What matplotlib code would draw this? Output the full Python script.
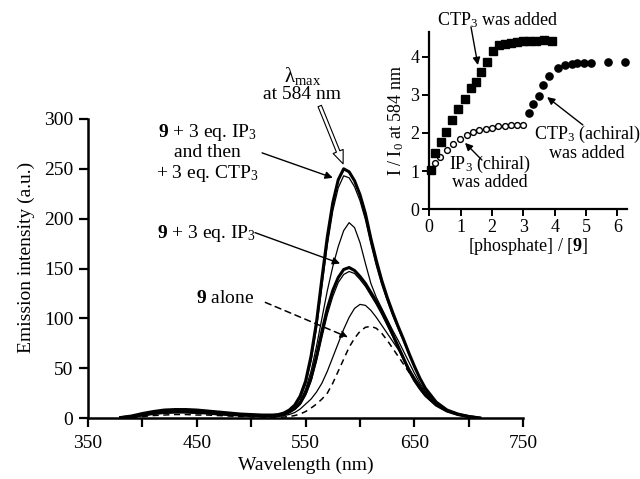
import matplotlib
matplotlib.use("Agg")
import matplotlib.pyplot as plt

plt.rcParams['font.family'] = ['Liberation Serif', 'DejaVu Serif']
plt.rcParams['mathtext.fontset'] = 'custom'
plt.rcParams['mathtext.rm'] = 'Liberation Serif'
plt.rcParams['mathtext.it'] = 'Liberation Serif:italic'
plt.rcParams['mathtext.bf'] = 'Liberation Serif:bold'

FS = 14      # main panel text
FS2 = 13     # inset text

# emission spectra (wavelength in nm, intensity in a.u.)
wl = [380, 390, 400, 410, 420, 430, 440, 450, 460, 470, 480, 490, 500, 510, 520,
      525, 530, 535, 540, 545, 550, 555, 560, 565, 570, 575, 580, 585, 590, 595,
      600, 605, 610, 615, 620, 625, 630, 635, 640, 645, 650, 655, 660,
      670, 680, 690, 700, 710]

# 9 + 3 eq. IP3 + 3 eq. CTP3 (final)
spec_ctp_end = [0.5, 2, 4.5, 6.5, 8, 8.5, 8.5, 8, 7, 6, 5, 4, 3.5, 3, 3,
                3.5, 5, 8, 13, 22, 37, 62, 96, 140, 182, 216, 239, 250, 247, 238,
                224, 205, 180, 158, 138, 121, 106, 92, 79, 65, 52, 40, 30,
                16, 8, 4, 1.5, 0]
spec_ctp_2 = [0.5, 2, 4, 6, 7.5, 8, 8, 7.5, 6.5, 5.5, 4.5, 3.5, 3, 2.5, 2.5,
              3, 4.5, 7, 12, 20, 34, 57, 90, 132, 174, 208, 231, 243, 241, 232,
              218, 199, 175, 153, 134, 118, 103, 90, 77, 64, 51, 40, 30,
              16, 8, 4, 1.5, 0]
spec_ctp_1 = [0.3, 1.5, 3, 5, 6, 6.5, 6.5, 6, 5.5, 4.5, 3.5, 3, 2.5, 2, 2,
              2.5, 4, 6.5, 10.5, 17, 29, 47, 72, 100, 128, 152, 172, 188, 196, 191,
              176, 155, 135, 121, 110, 99, 88, 78, 67, 56, 45, 35, 27,
              15, 7.5, 3.5, 1.5, 0]
# 9 + 3 eq. IP3
spec_ip_end = [0.3, 1.5, 3, 4.5, 5.5, 6, 6, 5.5, 5, 4, 3.5, 3, 2.5, 2, 2,
               2.5, 3.5, 6, 9.5, 15, 25, 40, 62, 87, 110, 128, 141, 149, 151, 148,
               142, 135, 126, 117, 107, 96, 84, 72, 60, 48, 38, 30, 23,
               13, 7, 3.5, 1.5, 0]
spec_ip_2 = [0.3, 1.5, 3, 4.5, 5.5, 6, 6, 5.5, 5, 4, 3.5, 3, 2.5, 2, 2,
             2.5, 3.5, 5.5, 8.5, 13.5, 23, 37, 57, 81, 104, 122, 136, 144, 147, 145,
             139, 132, 123, 114, 104, 93, 82, 70, 58, 47, 37, 29, 22,
             12.5, 6.5, 3, 1.2, 0]
spec_ip_1 = [0.3, 1, 2.5, 4, 5, 5.5, 5.5, 5, 4.5, 4, 3, 2.5, 2, 1.5, 1.5,
             1.8, 2.5, 3.5, 5.5, 9, 14, 19, 26, 35, 47, 61, 75, 89, 101, 110,
             114, 113, 108, 101, 93, 85, 77, 69, 60, 50, 41, 33, 26,
             15, 8, 3.5, 1.5, 0]
# 9 alone
spec_alone = [0, 0.5, 1.5, 2.5, 3, 3.5, 3.5, 3, 3, 2.5, 2, 1.5, 1.2, 1, 0.8,
              0.8, 1, 1.5, 2.5, 4, 6.5, 10, 14, 19, 25, 35, 47, 59, 71, 80,
              87, 91, 92, 90, 85, 78, 70, 62, 54, 46, 38, 31, 25,
              15, 8, 4, 1.5, 0]

# titration curves, I / I0 at 584 nm against [phosphate] / [9]
ctp_x = [0.05, 0.18, 0.36, 0.53, 0.74, 0.92, 1.14, 1.32, 1.49, 1.65, 1.85,
         2.04, 2.23, 2.41, 2.6, 2.79, 2.98, 3.18, 3.4, 3.65, 3.92]
ctp_y = [1.02, 1.47, 1.77, 2.02, 2.34, 2.62, 2.89, 3.17, 3.33, 3.61, 3.87,
         4.16, 4.3, 4.34, 4.37, 4.39, 4.4, 4.4, 4.41, 4.43, 4.42]
ip_x = [0.05, 0.18, 0.35, 0.56, 0.77, 0.99, 1.21, 1.41, 1.58, 1.8, 2.0,
        2.2, 2.4, 2.6, 2.8, 3.0]
ip_y = [1.02, 1.21, 1.37, 1.55, 1.72, 1.84, 1.94, 2.02, 2.07, 2.11, 2.14,
        2.17, 2.19, 2.2, 2.21, 2.22]
ach_x = [3.18, 3.32, 3.49, 3.64, 3.83, 4.10, 4.34, 4.54, 4.72, 4.94, 5.15,
         5.71, 6.24]
ach_y = [2.52, 2.75, 2.98, 3.26, 3.49, 3.69, 3.77, 3.81, 3.83, 3.84, 3.83,
         3.85, 3.85]

fig = plt.figure(figsize=(6.4, 4.79), dpi=100)
ax = fig.add_axes([0.1375, 0.1273, 0.680, 0.6243])

thin = 0.9
thick = 2.2
ax.plot(wl, spec_alone, color='k', lw=1.1, ls=(0, (4, 3)))
ax.plot(wl, spec_ip_1, color='k', lw=thin)
ax.plot(wl, spec_ip_2, color='k', lw=thin)
ax.plot(wl, spec_ip_end, color='k', lw=thick)
ax.plot(wl, spec_ctp_1, color='k', lw=thin)
ax.plot(wl, spec_ctp_2, color='k', lw=thin)
ax.plot(wl, spec_ctp_end, color='k', lw=thick)

ax.set_xlim(350, 750)
ax.set_ylim(0, 300)
ax.set_xticks([350, 450, 550, 650, 750])
ax.set_xticks([400, 500, 600, 700], minor=True)
ax.set_yticks(range(0, 301, 50))
for s in ['top', 'right']:
    ax.spines[s].set_visible(False)
for s in ['left', 'bottom']:
    ax.spines[s].set_linewidth(1.8)
ax.tick_params(which='both', direction='out', length=6.5, width=1.6,
               labelsize=FS, pad=4)
ax.tick_params(axis='x', pad=6)
ax.set_xlabel('Wavelength (nm)', fontsize=FS, labelpad=3)
ax.set_ylabel('Emission intensity (a.u.)', fontsize=FS)
ax.yaxis.set_label_coords(-0.122, 0.538)

arrow = dict(arrowstyle='-|>', color='k', lw=1.0, mutation_scale=11,
             shrinkA=0, shrinkB=0)

ax.text(547, 343, 'λ$_{\\rm max}$', fontsize=FS + 1, ha='center', va='center')
ax.text(547, 325, 'at 584 nm', fontsize=FS, ha='center', va='center')
ax.annotate('', xy=(584.5, 255), xytext=(563, 313), annotation_clip=False,
            arrowprops=dict(arrowstyle='simple,tail_width=0.22,head_width=0.65,head_length=0.8',
                            fc='white', ec='k', lw=0.8, mutation_scale=12,
                            shrinkA=0, shrinkB=0))

ax.text(460, 266, '$\\mathbf{9}$ + 3 eq. IP$_3$\nand then\n+ 3 eq. CTP$_3$',
        fontsize=FS, ha='center', va='center', linespacing=1.1)
ax.annotate('', xy=(575, 241), xytext=(510, 266), arrowprops=arrow)

ax.text(458.5, 185, '$\\mathbf{9}$ + 3 eq. IP$_3$', fontsize=FS,
        ha='center', va='center')
ax.annotate('', xy=(581.7, 155), xytext=(503.5, 186), arrowprops=arrow)

ax.text(476, 120, '$\\mathbf{9}$ alone', fontsize=FS, ha='center', va='center')
ax.annotate('', xy=(589, 81), xytext=(513, 116),
            arrowprops=dict(arrow, ls=(0, (4, 3)), lw=1.1))

# inset: titration
ax2 = fig.add_axes([0.6708, 0.5631, 0.3084, 0.3704])
ax2.patch.set_alpha(0)
ax2.plot(ip_x, ip_y, 'o', mfc='white', mec='k', mew=1.0, ms=4.2, clip_on=False)
ax2.plot(ctp_x, ctp_y, 's', color='k', ms=5.2, clip_on=False)
ax2.plot(ach_x, ach_y, 'o', color='k', ms=5.2, clip_on=False)
ax2.set_xlim(0, 6.3)
ax2.set_ylim(0, 4.65)
ax2.set_xticks(range(0, 7))
ax2.set_yticks(range(0, 5))
for s in ['top', 'right']:
    ax2.spines[s].set_visible(False)
for s in ['left', 'bottom']:
    ax2.spines[s].set_linewidth(1.6)
ax2.tick_params(direction='out', length=5, width=1.4, labelsize=FS2, pad=2)
ax2.set_xlabel('[phosphate] / [$\\mathbf{9}$]', fontsize=FS2, labelpad=0)
ax2.set_ylabel('I / I$_0$ at 584 nm', fontsize=FS2, labelpad=3)

ax2.text(2.19, 4.96, 'CTP$_3$ was added', fontsize=FS2, ha='center',
         va='center')
ax2.annotate('', xy=(1.55, 3.78), xytext=(1.33, 4.78), arrowprops=arrow,
             annotation_clip=False)
ax2.text(1.94, 0.97, 'IP$_3$ (chiral)\nwas added', fontsize=FS2, ha='center',
         va='center', linespacing=0.95)
ax2.annotate('', xy=(1.14, 1.74), xytext=(1.68, 1.29), arrowprops=arrow)
ax2.text(5.03, 1.74, 'CTP$_3$ (achiral)\nwas added', fontsize=FS2,
         ha='center', va='center', linespacing=0.95)
ax2.annotate('', xy=(3.76, 2.94), xytext=(4.90, 2.21), arrowprops=arrow)

fig.savefig('out.png', dpi=100)
